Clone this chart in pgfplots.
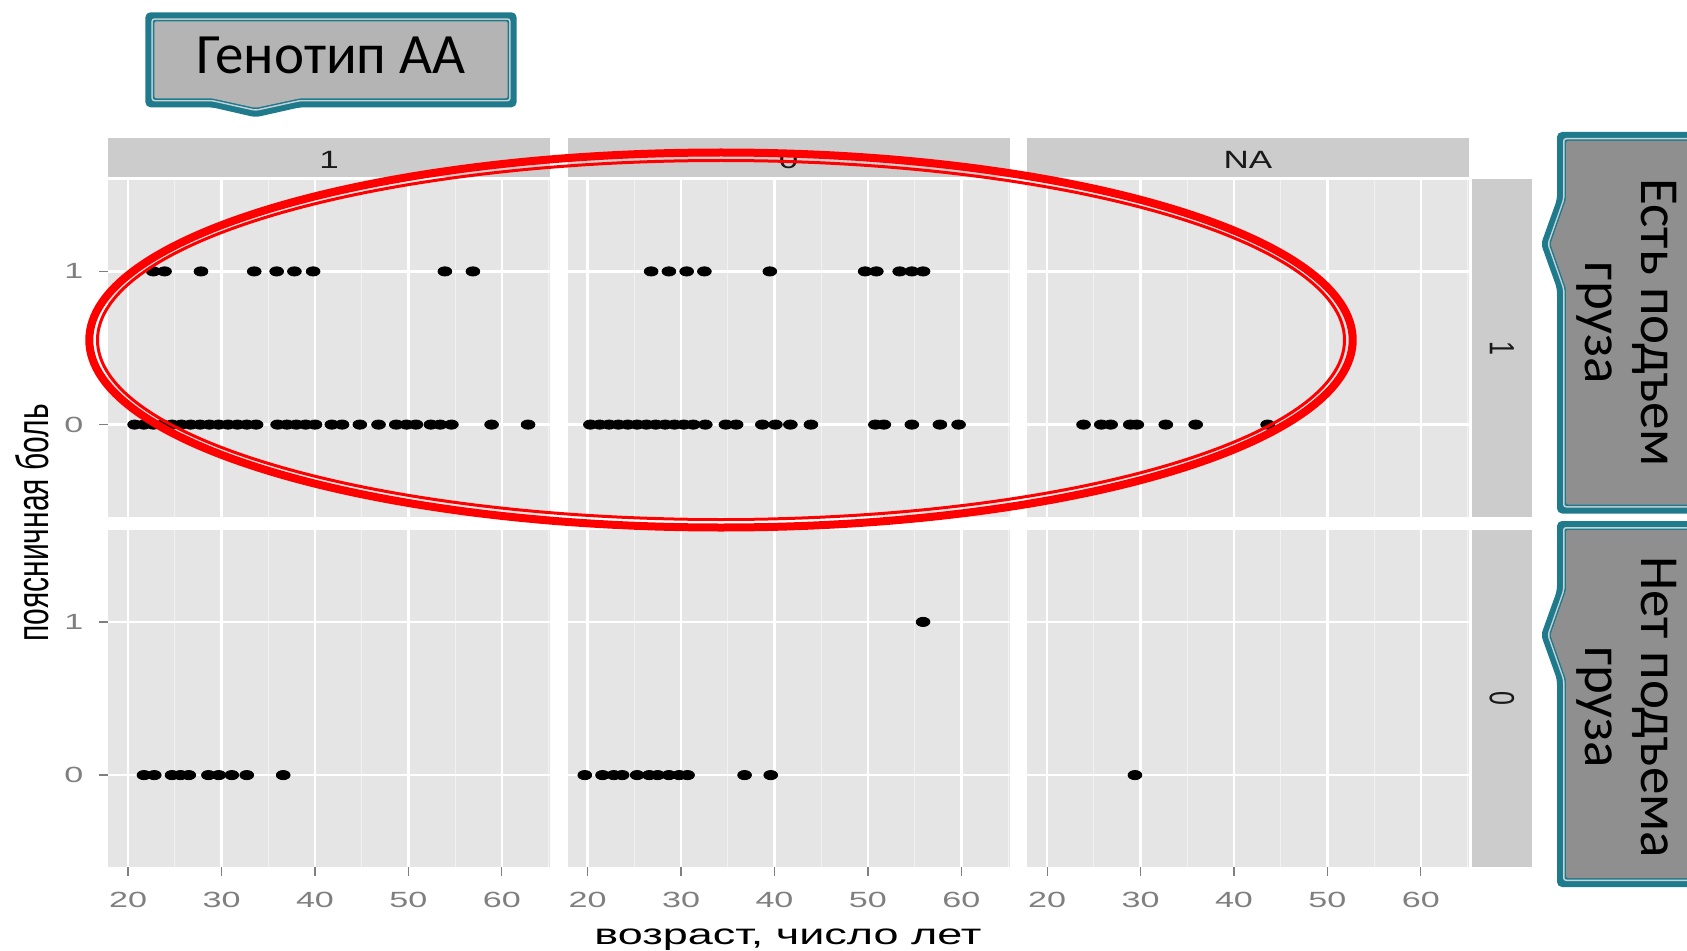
\documentclass[border=0pt]{standalone}
\usepackage{fontspec}
\setmainfont{Liberation Sans}
\newfontfamily\callfont{Carlito}
\usepackage{pgfplots}
\pgfplotsset{compat=1.18}
\definecolor{panelbg}{HTML}{E5E5E5}
\definecolor{stripbg}{HTML}{CCCCCC}
\definecolor{minorgrid}{HTML}{F2F2F2}
\definecolor{ticklab}{HTML}{7F7F7F}
\definecolor{tealb}{HTML}{1F7A8C}
\definecolor{callA}{HTML}{B4B4B4}
\definecolor{callB}{HTML}{8F8F8F}
\definecolor{lightline}{HTML}{C9D3D6}

\pgfplotsset{
  facet/.style={
    scale only axis, width=221pt, height=168.5pt,
    xmin=17.85, xmax=65.15, ymin=-0.6, ymax=1.6,
    xtick={20,30,40,50,60}, minor xtick={25,35,45,55,65},
    ytick={0,1},
    axis background/.style={fill=panelbg},
    axis line style={draw=none},
    xmajorgrids, ymajorgrids, xminorgrids,
    major grid style={white, line width=1.3pt},
    minor grid style={minorgrid, line width=0.6pt},
    tick align=outside, xtick pos=left, ytick pos=left,
    major tick length=4.5pt, minor tick length=0pt,
    tick style={ticklab, line width=0.6pt},
    /pgf/number format/assume math mode=true,
    xticklabel style={font=\fontsize{11}{13}\selectfont, text=ticklab, xscale=1.55, yshift=-4.5pt},
    yticklabel style={font=\fontsize{11}{13}\selectfont, text=ticklab, xscale=1.55, xshift=-1.5pt},
    anchor=south west,
  },
  noxt/.style={xticklabels={}, xtick style={draw=none}},
  noyt/.style={yticklabels={}, ytick style={draw=none}},
  pts/.style={only marks, mark=*, black, mark size=2.3pt, mark options={xscale=1.5, fill=black, draw=black}},
}

\newcommand\calloutTop[1]{(145.4+#1,12.3+#1) -- (516.6-#1,12.3+#1) -- (516.6-#1,107.3-#1) -- (300,107.3-#1) -- (255.6,117.3-1.05*#1) -- (212,107.3-#1) -- (145.4+#1,107.3-#1) -- cycle}
\newcommand\calloutRight[4]{(1557+#1,#2+#1) -- (1700,#2+#1) -- (1700,#3-#1) -- (1557+#1,#3-#1) -- (1557+#1,#4+44.5) -- (1541+1.05*#1,#4) -- (1557+#1,#4-44.5) -- cycle}

\begin{document}
\begin{tikzpicture}
\useasboundingbox (0,0) rectangle (843.5pt,475pt);

% ---------- row 1 (lifting = 1) ----------
\begin{axis}[facet, noxt, at={(54pt,216.75pt)}]
\addplot[pts] coordinates {
(22.7,1)(23.9,1)(27.8,1)(33.5,1)(35.9,1)(37.8,1)(39.8,1)(53.9,1)(56.9,1)
(20.7,0)(21.7,0)(22.7,0)(23.7,0)(24.7,0)(25.7,0)(26.7,0)(27.7,0)(28.7,0)(29.7,0)(30.7,0)(31.7,0)(32.7,0)(33.7,0)
(36,0)(37,0)(38,0)(39,0)(40,0)(41.8,0)(42.9,0)(44.8,0)(46.8,0)(48.7,0)(49.8,0)(50.8,0)(52.4,0)(53.4,0)(54.6,0)(58.9,0)(62.8,0)
};
\end{axis}
\begin{axis}[facet, noxt, noyt, at={(283.75pt,216.75pt)}]
\addplot[pts] coordinates {
(26.8,1)(28.7,1)(30.6,1)(32.5,1)(39.5,1)(49.7,1)(50.9,1)(53.4,1)(54.7,1)(55.9,1)
(20.3,0)(21.3,0)(22.3,0)(23.3,0)(24.3,0)(25.3,0)(26.3,0)(27.3,0)(28.3,0)(29.3,0)(30.3,0)(31.3,0)(32.6,0)
(34.8,0)(35.9,0)(38.7,0)(40.1,0)(41.7,0)(43.9,0)(50.8,0)(51.7,0)(54.7,0)(57.7,0)(59.7,0)
};
\end{axis}
\begin{axis}[facet, noxt, noyt, at={(513.5pt,216.75pt)}]
\addplot[pts] coordinates {
(23.9,0)(25.8,0)(26.8,0)(28.9,0)(29.6,0)(32.7,0)(35.9,0)(43.6,0)
};
\end{axis}

% ---------- row 2 (lifting = 0) ----------
\begin{axis}[facet, at={(54pt,41.5pt)}]
\addplot[pts] coordinates {
(21.7,0)(22.8,0)(24.7,0)(25.6,0)(26.5,0)(28.6,0)(29.7,0)(31.1,0)(32.7,0)(36.6,0)
};
\end{axis}
\begin{axis}[facet, noyt, at={(283.75pt,41.5pt)}]
\addplot[pts] coordinates {
(19.7,0)(21.6,0)(22.8,0)(23.7,0)(25.3,0)(26.6,0)(27.5,0)(28.7,0)(29.8,0)(30.7,0)(36.8,0)(39.6,0)
(55.9,1)
};
\end{axis}
\begin{axis}[facet, noyt, at={(513.5pt,41.5pt)}]
\addplot[pts] coordinates {
(29.4,0)
};
\end{axis}

\begin{scope}[x=0.5pt, y=-0.5pt, shift={(0pt,475pt)}]
% strips
\fill[stripbg] (108,138) rectangle (550,177);
\fill[stripbg] (567.5,138) rectangle (1009.5,177);
\fill[stripbg] (1027,138) rectangle (1469,177);
\fill[stripbg] (1472,179.5) rectangle (1532,516.5);
\fill[stripbg] (1472,530) rectangle (1532,867);
\node[font=\fontsize{12.5}{14}\selectfont, text=black!90, xscale=1.4] at (329,160) {1};
\node[font=\fontsize{12.5}{14}\selectfont, text=black!90, xscale=1.4] at (788.5,160) {0};
\node[font=\fontsize{12.5}{14}\selectfont, text=black!90, xscale=1.4] at (1248,160) {NA};
\node[font=\fontsize{12.5}{14}\selectfont, text=black!90, rotate=-90, yscale=1.4] at (1502,348) {1};
\node[font=\fontsize{12.5}{14}\selectfont, text=black!90, rotate=-90, yscale=1.4] at (1502,698.5) {0};

% axis titles
\node[rotate=90, yscale=1.5, font=\fontsize{15}{16}\selectfont] at (32,523) {поясничная боль};
\node[anchor=base, xscale=1.55, font=\fontsize{14.5}{16}\selectfont] at (788,944) {возраст, число лет};

% red ellipse
\draw[red, line width=4pt] (721,340) ellipse [x radius=631.7, y radius=187.5];
\draw[red, line width=1.5pt] (721,340) ellipse [x radius=623.5, y radius=179.5];

% top callout
\fill[tealb, rounded corners=2.5pt] \calloutTop{0};
\fill[lightline, rounded corners=1.5pt] \calloutTop{6};
\fill[tealb, rounded corners=1pt] \calloutTop{7.5};
\fill[callA, rounded corners=1pt] \calloutTop{9};
\node[font=\callfont\fontsize{28.5}{30}\selectfont] at (331,55) {Генотип АА};

% right callouts
\fill[tealb, rounded corners=2.5pt] \calloutRight{0}{132}{513.5}{244};
\fill[lightline, rounded corners=1.5pt] \calloutRight{6}{132}{513.5}{244};
\fill[tealb, rounded corners=1pt] \calloutRight{7.5}{132}{513.5}{244};
\fill[callB, rounded corners=1pt] \calloutRight{9}{132}{513.5}{244};
\node[font=\callfont\fontsize{27.5}{28}\selectfont, rotate=-90, align=center] at (1627,323) {Есть подъем\\груза};

\fill[tealb, rounded corners=2.5pt] \calloutRight{0}{521}{887}{635};
\fill[lightline, rounded corners=1.5pt] \calloutRight{6}{521}{887}{635};
\fill[tealb, rounded corners=1pt] \calloutRight{7.5}{521}{887}{635};
\fill[callB, rounded corners=1pt] \calloutRight{9}{521}{887}{635};
\node[font=\callfont\fontsize{27.5}{28}\selectfont, rotate=-90, align=center] at (1627,707) {Нет подъема\\груза};
\end{scope}
\end{tikzpicture}
\end{document}
